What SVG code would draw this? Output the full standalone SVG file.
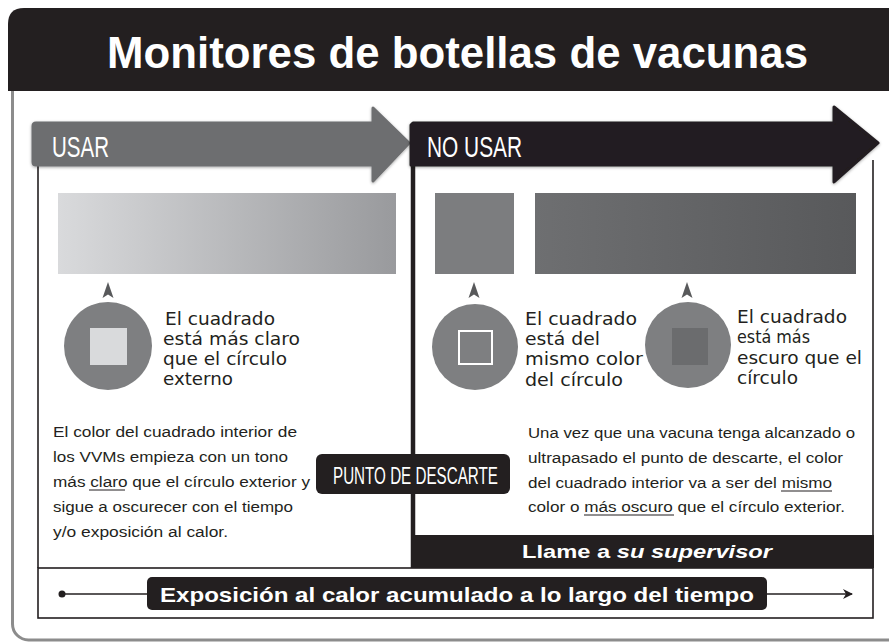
<svg xmlns="http://www.w3.org/2000/svg" width="889" height="643" viewBox="0 0 889 643">
<defs>
<style>
.blk{fill:#231f20}
.line{fill:none;stroke:#231f20;stroke-width:1.6}
.lbl{font-family:"Liberation Sans",Arial,sans-serif;font-weight:bold;fill:#fff}
.cnd{font-family:"Liberation Sans",Arial,sans-serif;font-weight:normal;fill:#fff}
.cap{font-family:"DejaVu Sans","Liberation Sans",sans-serif;font-size:17px;fill:#231f20}
.par{font-family:"Liberation Sans",Arial,sans-serif;font-size:14px;fill:#231f20}
.ul{stroke:#231f20;stroke-width:1.2}
.circ{fill:#7e7f81}
.mark{fill:#58595b}
</style>
<linearGradient id="gUse" x1="0" y1="0" x2="1" y2="0">
<stop offset="0" stop-color="#d9dadc"/>
<stop offset="1" stop-color="#999a9d"/>
</linearGradient>
<linearGradient id="gNo" x1="0" y1="0" x2="1" y2="0">
<stop offset="0" stop-color="#6e6f71"/>
<stop offset="1" stop-color="#58595b"/>
</linearGradient>
<filter id="sh" x="-5%" y="-20%" width="110%" height="140%">
<feDropShadow dx="0" dy="1" stdDeviation="1.5" flood-color="#000" flood-opacity="0.35"/>
</filter>
<marker id="arr" viewBox="0 0 10 10" refX="9" refY="5" markerWidth="10" markerHeight="10" markerUnits="userSpaceOnUse" orient="auto">
<path d="M0,0 L10,5 L0,10 L3,5 Z" fill="#231f20"/>
</marker>
</defs>
<rect width="889" height="643" fill="#fff"/>

<!-- outer frame -->
<rect x="12.5" y="20" width="900" height="620" rx="16" fill="none" stroke="#8c8c8c" stroke-width="3"/>

<!-- title -->
<g id="title">
<path class="blk" d="M8,24 Q8,8 24,8 H889 V91 H8 Z"/>
<text class="lbl" x="107" y="68" font-size="44" textLength="701" lengthAdjust="spacingAndGlyphs">Monitores de botellas de vacunas</text>
</g>

<!-- panel borders -->
<g id="connectors">
<line class="line" x1="38" y1="160" x2="38" y2="568"/>
<line class="line" x1="873" y1="160" x2="873" y2="536"/>
<line x1="413" y1="160" x2="413" y2="568" stroke="#231f20" stroke-width="4.5"/>
<rect class="line" x="38" y="568" width="835" height="50"/>
<line x1="62" y1="594" x2="147" y2="594" stroke="#231f20" stroke-width="1.6"/>
<circle cx="62" cy="594" r="3.5" fill="#231f20"/>
<line x1="767" y1="594" x2="852" y2="594" stroke="#231f20" stroke-width="1.6" marker-end="url(#arr)"/>
</g>

<!-- USAR arrow -->
<g id="usar">
<path d="M36,123 H373 V108 L409,143 L373,181 V165 H36 Q33,165 33,162 V126 Q33,123 36,123 Z" fill="#6d6e70" stroke="#6d6e70" stroke-width="3" stroke-linejoin="round" filter="url(#sh)"/>
<text class="cnd" x="52" y="157" font-size="30" textLength="57" lengthAdjust="spacingAndGlyphs">USAR</text>
</g>

<!-- NO USAR arrow -->
<g id="no-usar">
<path d="M413,123 H834 V107 L878,143 L834,182 V165 H411 V125 Z" fill="#231f20" stroke="#231f20" stroke-width="3" stroke-linejoin="round" filter="url(#sh)"/>
<text class="cnd" x="427" y="157" font-size="30" textLength="95" lengthAdjust="spacingAndGlyphs">NO USAR</text>
</g>

<!-- color bars -->
<g id="bar-usar">
<rect x="58" y="193" width="338" height="81" fill="url(#gUse)"/>
</g>
<g id="bar-same">
<rect x="435" y="193" width="79" height="81" fill="#7c7d7f"/>
</g>
<g id="bar-dark">
<rect x="535" y="193" width="321" height="81" fill="url(#gNo)"/>
</g>

<!-- circle 1 -->
<g id="vvm-light">
<path class="mark" d="M108,282 L113.5,298 L108,294.5 L102.5,298 Z"/>
<circle class="circ" cx="108" cy="346" r="44"/>
<rect x="90" y="328" width="37" height="37" fill="#d9dadc"/>
<text class="cap"><tspan x="165" y="325" textLength="110" lengthAdjust="spacingAndGlyphs">El cuadrado</tspan><tspan x="163" y="345" textLength="137" lengthAdjust="spacingAndGlyphs">está más claro</tspan><tspan x="163" y="365" textLength="124" lengthAdjust="spacingAndGlyphs">que el círculo</tspan><tspan x="163" y="385" textLength="70" lengthAdjust="spacingAndGlyphs">externo</tspan></text>
</g>

<!-- circle 2 -->
<g id="vvm-same">
<path class="mark" d="M474,282 L479.5,298 L474,294.5 L468.5,298 Z"/>
<circle class="circ" cx="475" cy="347" r="43"/>
<rect x="459" y="331" width="33" height="33" fill="none" stroke="#fff" stroke-width="2"/>
<text class="cap"><tspan x="525" y="325" textLength="112" lengthAdjust="spacingAndGlyphs">El cuadrado</tspan><tspan x="525" y="345" textLength="75" lengthAdjust="spacingAndGlyphs">está del</tspan><tspan x="525" y="365" textLength="118" lengthAdjust="spacingAndGlyphs">mismo color</tspan><tspan x="525" y="386" textLength="98" lengthAdjust="spacingAndGlyphs">del círculo</tspan></text>
</g>

<!-- circle 3 -->
<g id="vvm-dark">
<path class="mark" d="M687,282 L692.5,298 L687,294.5 L681.5,298 Z"/>
<circle class="circ" cx="688" cy="345" r="43"/>
<rect x="672" y="328" width="36" height="37" fill="#6b6c6e"/>
<text class="cap"><tspan x="737" y="323" textLength="110" lengthAdjust="spacingAndGlyphs">El cuadrado</tspan><tspan x="737" y="343" textLength="73" lengthAdjust="spacingAndGlyphs">está más</tspan><tspan x="737" y="364" textLength="125" lengthAdjust="spacingAndGlyphs">escuro que el</tspan><tspan x="737" y="384" textLength="61" lengthAdjust="spacingAndGlyphs">círculo</tspan></text>
</g>

<!-- left paragraph -->
<g id="text-usar">
<text class="par" x="53" y="437" textLength="244" lengthAdjust="spacingAndGlyphs">El color del cuadrado interior de</text>
<text class="par" x="53" y="462" textLength="235" lengthAdjust="spacingAndGlyphs">los VVMs empieza con un tono</text>
<text class="par" x="53" y="487" textLength="257" lengthAdjust="spacingAndGlyphs">más claro que el círculo exterior y</text>
<line class="ul" x1="89" y1="490" x2="125" y2="490"/>
<text class="par" x="53" y="512" textLength="240" lengthAdjust="spacingAndGlyphs">sigue a oscurecer con el tiempo</text>
<text class="par" x="53" y="537" textLength="175" lengthAdjust="spacingAndGlyphs">y/o exposición al calor.</text>
</g>

<!-- right paragraph -->
<g id="text-no-usar">
<text class="par" x="528" y="438" textLength="327" lengthAdjust="spacingAndGlyphs">Una vez que una vacuna tenga alcanzado o</text>
<text class="par" x="528" y="463" textLength="315" lengthAdjust="spacingAndGlyphs">ultrapasado el punto de descarte, el color</text>
<text class="par" x="528" y="488" textLength="304" lengthAdjust="spacingAndGlyphs">del cuadrado interior va a ser del mismo</text>
<line class="ul" x1="781" y1="491" x2="832" y2="491"/>
<text class="par" x="528" y="512" textLength="317" lengthAdjust="spacingAndGlyphs">color o más oscuro que el círculo exterior.</text>
<line class="ul" x1="584" y1="515" x2="674" y2="515"/>
</g>

<!-- discard point -->
<g id="punto">
<rect class="blk" x="316" y="454" width="194" height="40" rx="6"/>
<text class="cnd" transform="translate(333,484) scale(0.62,1)" x="0" y="0" font-size="24" textLength="266" lengthAdjust="spacingAndGlyphs">PUNTO DE DESCARTE</text>
</g>

<!-- supervisor bar -->
<g id="supervisor">
<rect class="blk" x="411" y="535" width="463" height="33"/>
<text class="lbl" x="522" y="558" font-size="19" textLength="250" lengthAdjust="spacingAndGlyphs">Llame a <tspan font-style="italic">su supervisor</tspan></text>
</g>

<!-- timeline label -->
<g id="timeline">
<rect class="blk" x="147" y="577" width="620" height="33" rx="5"/>
<text class="lbl" x="160" y="602" font-size="21" textLength="594" lengthAdjust="spacingAndGlyphs">Exposición al calor acumulado a lo largo del tiempo</text>
</g>
</svg>
